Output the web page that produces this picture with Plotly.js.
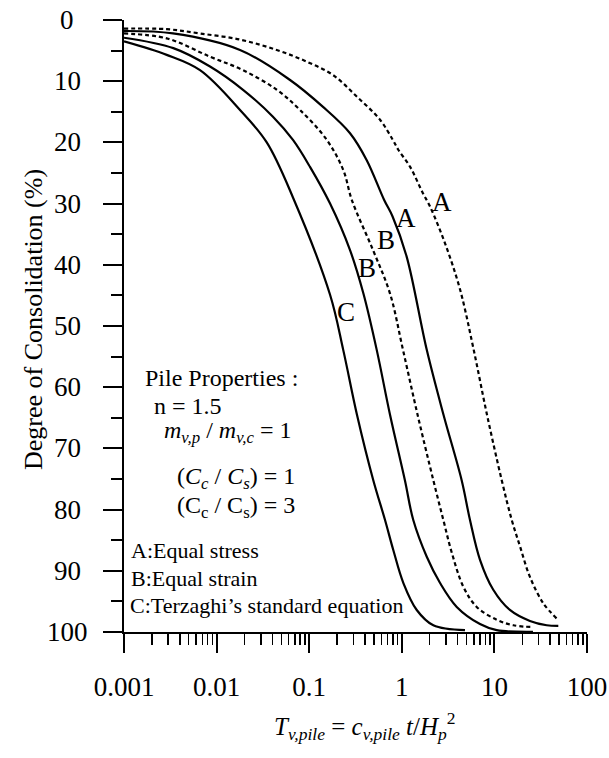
<!DOCTYPE html>
<html>
<head>
<meta charset="utf-8">
<script src="https://cdn.plot.ly/plotly-3.0.1.min.js"></script>
<style>
  html, body { margin: 0; padding: 0; background: #fff; }
  #chart { width: 609px; height: 758px; }
</style>
</head>
<body>
<div id="chart"></div>
<script>
// Time factor T (log scale) and degree of consolidation U (%) for each curve.
// C: Terzaghi's standard equation
const tTerzaghi = [0.001, 0.00289, 0.00662, 0.0179, 0.0348, 0.0668, 0.168, 0.233, 0.328, 0.492, 0.659, 0.809, 1.04, 1.45, 2.19, 4.81];
const uTerzaghi = [3.5, 5.7, 8.2, 14.7, 20.0, 29.0, 44.9, 53.9, 64.5, 75.2, 81.7, 86.6, 92.0, 96.4, 98.9, 99.7];

// B: Equal strain, Cc/Cs = 1 (solid)
const tStrainCc1 = [0.001, 0.00341, 0.00849, 0.0193, 0.0406, 0.0668, 0.102, 0.168, 0.276, 0.385, 0.536, 0.746, 1.08, 1.33, 1.86, 2.59, 3.92, 6.99, 10.6, 26.1];
const uStrainCc1 = [2.9, 4.6, 7.6, 11.4, 15.8, 19.6, 24.0, 30.0, 37.6, 44.7, 53.9, 64.5, 75.2, 81.7, 87.7, 92.0, 95.9, 98.7, 99.7, 99.97];

// B: Equal strain, Cc/Cs = 3 (dotted)
const tStrainCc3 = [0.001, 0.00289, 0.00849, 0.0193, 0.0446, 0.0796, 0.155, 0.233, 0.290, 0.489, 0.746, 1.03, 1.48, 2.19, 2.81, 3.46, 4.62, 6.44, 10.6, 16.0, 26.3];
const uStrainCc3 = [2.2, 3.0, 6.0, 8.2, 11.4, 14.7, 19.6, 24.5, 29.5, 37.6, 44.7, 53.9, 64.5, 75.2, 81.7, 87.0, 92.6, 95.9, 98.0, 98.9, 99.2];

// A: Equal stress, Cc/Cs = 1 (solid)
const tStressCc1 = [0.001, 0.00338, 0.0179, 0.0621, 0.141, 0.276, 0.418, 0.645, 0.795, 1.13, 1.86, 2.82, 4.43, 5.45, 6.99, 9.72, 14.7, 24.2, 36.7, 49.0];
const uStressCc1 = [1.8, 2.2, 4.9, 9.8, 14.2, 18.5, 22.9, 29.4, 32.1, 38.7, 53.9, 64.5, 75.2, 81.7, 88.2, 93.1, 96.4, 98.2, 98.9, 99.0];

// A: Equal stress, Cc/Cs = 3 (dotted)
const tStressCc3 = [0.001, 0.00289, 0.00662, 0.0179, 0.0446, 0.094, 0.181, 0.326, 0.582, 0.80, 0.916, 1.23, 1.69, 2.02, 2.93, 4.25, 5.92, 8.32, 12.0, 15.4, 18.9, 24.2, 33.7, 47.1];
const uStressCc3 = [1.4, 1.5, 2.2, 3.2, 4.9, 6.8, 9.0, 12.5, 16.3, 19.6, 21.2, 24.0, 28.3, 30.5, 36.5, 44.0, 53.6, 64.5, 75.2, 81.7, 86.0, 91.0, 95.3, 97.8];

// Axis ticks
const xTickVals = [0.001, 0.01, 0.1, 1, 10, 100];
const xTickText = ['0.001', '0.01', '0.1', '1', '10', '100'];
const yTickVals = [0, 10, 20, 30, 40, 50, 60, 70, 80, 90, 100];
const yTickText = ['0', '10', '20', '30', '40', '50', '60', '70', '80', '90', '100'];

const SERIF = 'Liberation Serif, DejaVu Serif, serif';

function curve(x, y, dotted) {
  return {
    x: x, y: y, type: 'scatter', mode: 'lines', hoverinfo: 'skip',
    line: { color: '#000', width: 2.2, shape: 'spline', smoothing: 1, dash: dotted ? '4px,3px' : 'solid' }
  };
}

const traces = [
  curve(tTerzaghi, uTerzaghi, false),
  curve(tStrainCc1, uStrainCc1, false),
  curve(tStrainCc3, uStrainCc3, true),
  curve(tStressCc1, uStressCc1, false),
  curve(tStressCc3, uStressCc3, true)
];

// plot area in pixels: x 124..587, y 20..632
const L = 124, T = 20, W = 463, H = 612;
const px = x => (x - L) / W;
const py = y => 1 - (y - T) / H;

function note(text, x, y, size, anchor) {
  return {
    text: text, xref: 'paper', yref: 'paper', x: px(x), y: py(y),
    xanchor: anchor || 'left', yanchor: 'middle', showarrow: false,
    font: { family: SERIF, size: size, color: '#000' }
  };
}

const annotations = [
  note('Pile Properties :', 143, 378, 24),
  note('n = 1.5', 152, 406, 24),
  note('<i>m</i><sub><i>v,p</i></sub> / <i>m</i><sub><i>v,c</i></sub> = 1', 162, 432, 24),
  note('(<i>C</i><sub><i>c</i></sub> / <i>C</i><sub><i>s</i></sub>) = 1', 175, 478, 24),
  note('(C<sub>c</sub> / C<sub>s</sub>) = 3', 175, 507, 24),
  note('A:Equal stress', 129, 550, 22),
  note('B:Equal strain', 129, 578, 22),
  note('C:Terzaghi\u2019s standard equation', 128, 605, 22),
  note('A', 442, 202, 27, 'center'),
  note('A', 406, 218, 27, 'center'),
  note('B', 386, 240, 27, 'center'),
  note('B', 367, 268, 27, 'center'),
  note('C', 346, 312, 27, 'center'),
  // axis titles
  note('<i>T</i><sub><i>v,pile</i></sub> = <i>c</i><sub><i>v,pile</i></sub> <i>t</i>/<i>H</i><sub><i>p</i></sub><sup>2</sup>', 365, 726, 25, 'center'),
  Object.assign(note('Degree of Consolidation (%)', 33, 320, 26, 'center'), { textangle: -90 })
];

// y tick labels, centred in the left gutter at each tick value
yTickVals.forEach((v, i) => {
  annotations.push({
    text: yTickText[i], xref: 'paper', yref: 'y', x: px(67), y: v,
    xanchor: 'center', yanchor: 'middle', showarrow: false,
    font: { family: SERIF, size: 27, color: '#000' }
  });
});

const axisCommon = {
  showline: true, linecolor: '#000', linewidth: 2,
  ticks: 'outside', ticklen: 19, tickwidth: 2, tickcolor: '#000',
  showgrid: false, zeroline: false,
  tickfont: { family: SERIF, size: 27, color: '#000' }
};

const layout = {
  width: 609, height: 758,
  margin: { l: L, r: 609 - L - W, t: T, b: 758 - T - H },
  paper_bgcolor: '#fff', plot_bgcolor: '#fff',
  showlegend: false,
  font: { family: SERIF, color: '#000' },
  xaxis: Object.assign({}, axisCommon, {
    type: 'log', range: [-3, 2],
    tickmode: 'array', tickvals: xTickVals, ticktext: xTickText,
    ticklabelstandoff: 11,
    minor: { ticks: 'outside', ticklen: 11, tickwidth: 1.5, tickcolor: '#000', dtick: 'D1', showgrid: false }
  }),
  yaxis: Object.assign({}, axisCommon, {
    range: [100, 0],
    tickmode: 'array', tickvals: yTickVals,
    showticklabels: false,
    minor: { ticks: 'outside', ticklen: 11, tickwidth: 2, tickcolor: '#000', dtick: 5, tick0: 0, showgrid: false }
  }),
  annotations: annotations
};

Plotly.newPlot('chart', traces, layout, { staticPlot: true, displayModeBar: false });
</script>
</body>
</html>
